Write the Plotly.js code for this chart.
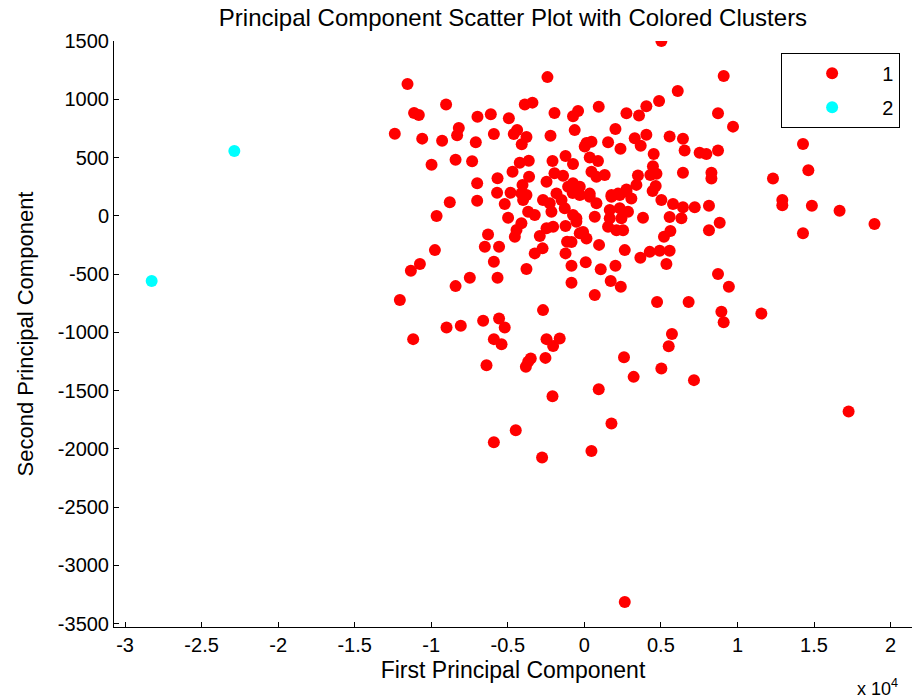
<!DOCTYPE html>
<html><head><meta charset="utf-8">
<script src="https://cdn.plot.ly/plotly-3.0.1.min.js"></script>
<style>body{margin:0;background:#fff}#chart{width:912px;height:700px}</style>
</head><body><div id="chart"></div>
<script>
const cluster1X = [5030,9100,6100,-2410,-11550,4880,4050,940,-410,-740,2750,3570,8730,9710,2030,-630,140,465,25,1550,2360,3290,4050,3680,5570,6440,6550,7530,7970,8730,4530,350,890,-740,4480,4710,4310,6440,8300,8300,465,1330,790,3500,4660,3400,2750,2200,1770,350,-300,-740,14280,14630,12320,12930,12930,14860,16670,18950,14280,11560,17260,8140,8840,8140,7210,6440,5790,5570,6340,5030,3830,5620,5200,5570,4920,4270,3660,5360,2640,8730,9440,4750,6810,8950,9100,5720,5510,2590,2030,1720,2380,680,1070,90,-840,-840,960,-840,-85,-300,140,2100,2530,1550,1660,2420,2850,2310,1660,680,-740,-520,790,350,-300,-760,1770,2310,3070,2750,4460,-8790,-7000,-9650,-5700,-4820,-4110,-3780,-5200,-4000,-4980,-3670,-3240,-4110,-4430,-4540,-2700,-2260,-2150,-1490,-1280,-520,-2470,-2040,-1230,-2910,-6290,-6500,-5570,-1130,-2730,-3240,-1230,-9760,-10740,-11330,-5910,-3780,-7480,-5670,-8410,-12050,-2700,-9000,-8070,-6610,-5570,-5200,-11180,-5910,-5410,-2470,-1610,-2040,-3500,-2540,-6390,-3670,-3820,-2080,-4480,-5910,-2760,5030,3220,7160,940,1770,463,2640,-4220,-3630,-4690,-3610,-4040,-5670,-7000,-2080,-2470,-1950,-1390,-1060,-1820,-9030,-11120,-10810,-3890,-3390,-1950,-6980,-6110,-4930,-12380,-10590,-9290,-8200,-8310,-7090,-5910,-4390,-4610,-3780,-4090,-2210,-9980,-8410,-7330,-1230];
const cluster1Y = [1500,1200,1070,1190,1130,985,940,935,900,855,880,860,880,765,745,735,625,635,595,630,575,665,695,600,680,660,560,540,530,560,530,500,470,445,425,360,350,370,370,320,378,350,335,345,255,265,225,190,178,190,250,278,615,390,320,135,90,86,43,-70,-150,-840,-1680,85,-60,-125,72,72,100,-10,-22,135,-17,-130,-180,-300,-300,-310,-360,-415,-295,-500,-610,-740,-740,-825,-915,-1015,-1120,-1215,-430,-560,-610,-680,-460,-400,-430,-575,-250,-225,-140,-150,-195,-125,-125,-95,-22,-22,34,64,49,-9,6,-22,107,163,178,195,163,178,149,206,212,115,129,-3,198,198,192,178,100,135,-17,34,6,-65,-123,-180,135,107,34,135,64,-52,-108,-95,-88,-174,-160,-266,-266,-223,-280,-323,-323,-295,-415,-473,-395,-458,-533,-533,-604,-724,-810,-959,-945,-902,-881,-959,-1059,-1059,-1102,-1059,-1053,-1119,-1225,-1220,-1283,-1254,-1297,-1549,-1841,-1944,-2076,-1311,-1383,-1411,-1489,-1783,-2019,-3316,455,472,378,335,264,321,278,470,292,364,344,249,192,954,882,865,954,971,882,850,871,837,704,662,644,753,691,631,702,736,702,676,613,687,438,481,467,513];
const cluster2X = [-22860, -28260];
const cluster2Y = [556, -561];
const clusterNames = ['1', '2'];
const xTickVals = [-30000,-25000,-20000,-15000,-10000,-5000,0,5000,10000,15000,20000];
const xTickText = ['-3','-2.5','-2','-1.5','-1','-0.5','0','0.5','1','1.5','2'];
const yTickVals = [-3500,-3000,-2500,-2000,-1500,-1000,-500,0,500,1000,1500];
const yTickText = ['-3500','-3000','-2500','-2000','-1500','-1000','-500','0','500','1000','1500'];

const fam = 'Liberation Sans, Arial, sans-serif';
const tickFont = {family: fam, size: 20, color: '#000'};
const labelFont = {family: fam, size: 23, color: '#000'};
const traces = [
  {x: cluster1X, y: cluster1Y, name: clusterNames[0], legendgroup: 'g1', type: 'scatter', mode: 'markers',
   marker: {color: '#ff0000', size: 12}},
  {x: cluster2X, y: cluster2Y, name: clusterNames[1], legendgroup: 'g2', type: 'scatter', mode: 'markers',
   marker: {color: '#00ffff', size: 12}}
];
const layout = {
  width: 912, height: 700,
  margin: {l: 114, r: 0, t: 41, b: 73},
  paper_bgcolor: '#fff', plot_bgcolor: '#fff',
  font: tickFont,
  title: {text: 'Principal Component Scatter Plot with Colored Clusters', font: {family: fam, size: 24, color: '#000'},
          xref: 'paper', x: 0.5, xanchor: 'center', yref: 'container', y: 0.975, yanchor: 'middle'},
  xaxis: {range: [-30720, 21400], tickvals: xTickVals, ticktext: xTickText, ticks: 'inside', ticklen: 5,
          tickcolor: '#000', showline: true, linecolor: '#000', linewidth: 1, showgrid: false, zeroline: false,
          title: {text: 'First Principal Component', font: labelFont, standoff: 6}, tickfont: tickFont},
  yaxis: {range: [-3530, 1500], tickvals: yTickVals, ticktext: yTickText, ticks: 'inside', ticklen: 5,
          tickcolor: '#000', showline: true, linecolor: '#000', linewidth: 1, showgrid: false, zeroline: false,
          title: {text: 'Second Principal Component', font: {family: fam, size: 22, color: '#000'}, standoff: 18}, tickfont: tickFont},
  showlegend: true,
  legend: {x: 0.836, y: 0.98, xanchor: 'left', yanchor: 'top', bgcolor: '#fff', bordercolor: '#000', borderwidth: 1,
           font: {family: fam, size: 20, color: '#000'}, itemwidth: 90, traceorder: 'grouped', tracegroupgap: 5},
  annotations: [{text: 'x 10<sup>4</sup>', xref: 'paper', yref: 'paper', x: 0.985, y: -0.104, xanchor: 'right',
                 yanchor: 'middle', showarrow: false, font: {family: fam, size: 18, color: '#000'}}]
};
Plotly.newPlot('chart', traces, layout, {displayModeBar: false, staticPlot: true});
</script>
</body></html>
